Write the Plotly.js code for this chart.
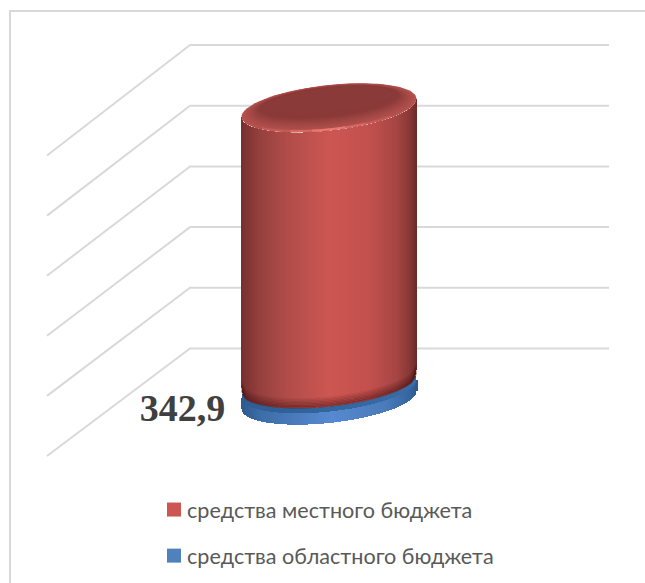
<!DOCTYPE html>
<html>
<head>
<meta charset="utf-8">
<script src="https://cdn.plot.ly/plotly-3.0.1.min.js"></script>
<style>html,body{margin:0;padding:0;background:#fff}#chart{width:645px;height:583px}</style>
</head>
<body>
<div id="chart"></div>
<script>
// ---- data ----
var seriesNames = ['средства местного бюджета', 'средства областного бюджета'];
var localBudget = 9085;      // estimated: its label is not shown in the picture
var regionalBudget = 342.9;
var regionalLabel = '342,9';
var gridValues = [0, 2000, 4000, 6000, 8000, 10000];

// ---- geometry and style ----
var W = 645, H = 583;
var unitsPerPx = 2000 / 60.7;
var floorPx = 402;                 // page row of value 0 at the centre of the floor
var yRange = [(floorPx - H) * unitsPerPx, floorPx * unitsPerPx];
var px = function (p) { return p * unitsPerPx; };

var gridFront = 47, gridBack = 190, gridRight = 609, depthPx = 53.5;
var cx = 329, a = 87.5, b = 23, skew = -9, lift = px(3), seat = px(5), cornerPx = 7;

function mix(c1, c2, f) {
  var out = [0, 1, 2].map(function (i) { return Math.round(c1[i] + (c2[i] - c1[i]) * f); });
  return 'rgb(' + out.join(',') + ')';
}
function hex(h) { return [1, 3, 5].map(function (i) { return parseInt(h.substr(i, 2), 16); }); }
function ramp(stops, x) {
  for (var i = 0; i < stops.length - 1; i++) {
    if (x <= stops[i + 1][0]) {
      return mix(hex(stops[i][1]), hex(stops[i + 1][1]), Math.max(0, (x - stops[i][0]) / (stops[i + 1][0] - stops[i][0])));
    }
  }
  return stops[stops.length - 1][1];
}
var redStops = [[241, '#76302e'], [260, '#95403e'], [287, '#b04c49'], [330, '#cd5652'], [370, '#c2504d'], [397, '#a54543'], [410, '#863735'], [417, '#682a28']];
var blueStops = [[241, '#2d5a8f'], [262, '#3d6ea9'], [330, '#5689cf'], [385, '#4a7bbb'], [410, '#35659f'], [418, '#2c578a']];
var capStops = [[241, '#2f5c93'], [330, '#33659f'], [418, '#3a6ca5']];

// offset of the ellipse rim below its centre, in value units (negative = lower on the page)
function rim(x, sign, scale) {
  var c = Math.max(-1, Math.min(1, (x - cx) / a));
  var s = Math.sqrt(1 - c * c);
  return -px(sign * b * s * (scale || 1) + skew * c);
}
// rounded foot: the column's lower edge curls up within cornerPx of its sides
function curl(x) {
  var d = Math.min(x - 241, 417 - x);
  if (d >= cornerPx) return 0;
  var k = 1 - d / cornerPx;
  return px(cornerPx * (1 - Math.sqrt(1 - k * k)));
}

var slices = [];
for (var x = 241; x <= 417; x++) slices.push(x + 0.5);

function column(base, heightFn, stops) {
  return {
    type: 'bar', xaxis: 'x2', yaxis: 'y2', showlegend: false, hoverinfo: 'skip',
    x: slices, width: slices.map(function () { return 1; }),
    base: slices.map(base),
    y: slices.map(heightFn),
    marker: { color: slices.map(function (q) { return ramp(stops, q); }), line: { width: 0 } }
  };
}

var traces = [];

// back wall grid: one bent line per value
gridValues.forEach(function (v) {
  traces.push({
    type: 'scatter', mode: 'lines', showlegend: false, hoverinfo: 'skip',
    x: [gridFront, gridBack, gridRight],
    y: [v * 0.99 - px(depthPx + 0.5), v + px(depthPx), v + px(depthPx)],
    line: { color: '#d9d9d9', width: 2 }
  });
});

// regional budget: thin disc
var blueBottom = lift - px(1);
var blueTop = lift + regionalBudget;
traces.push(column(function (q) { return blueBottom + rim(q, 1); }, function () { return blueTop - blueBottom; }, blueStops));
traces.push(column(function (q) { return blueTop + rim(q, 1); }, function (q) { return rim(q, -1) - rim(q, 1); }, capStops));

// local budget: tall cylinder standing on the disc
var redBase = blueTop + seat;
var redTop = redBase + localBudget;
traces.push(column(function (q) { return redBase + rim(q, 1) + curl(q); }, function (q) { return localBudget - curl(q); }, redStops));

// darker band along the foot of the cylinder
function arc(yc, sign, scale, from, to) {
  var xs = [], ys = [];
  for (var q = from; q <= to; q += 1.5) { xs.push(q); ys.push(yc + rim(q, sign, scale) + (sign > 0 && yc < redTop - px(20) ? curl(q) : 0)); }
  return { xs: xs, ys: ys };
}
for (var i = 0; i < 7; i++) {
  var foot = arc(redBase + px(i * 1.4 + 0.8), 1, 1, 242, 416);
  traces.push({
    type: 'scatter', mode: 'lines', xaxis: 'x2', yaxis: 'y2', showlegend: false, hoverinfo: 'skip',
    x: foot.xs, y: foot.ys,
    line: { color: 'rgba(70,20,20,' + (0.42 - i * 0.06) + ')', width: 2, shape: 'spline' }
  });
}

// top of the cylinder: nested ellipses, from bright rim to dark centre
var rings = 18, rimColor = hex('#b4514e'), coreColor = hex('#8a3a38');
for (var r = 0; r < rings; r++) {
  var f = r / (rings - 1);
  var scale = 1 - 0.48 * Math.pow(f, 0.8);
  var up = px(8 * Math.pow(f, 0.8));
  var xs = [], ys = [];
  for (var t = 0; t <= 360; t += 4) {
    var ca = Math.cos(t * Math.PI / 180), sa = Math.sin(t * Math.PI / 180);
    var sc = 1 - 0.28 * Math.pow(f, 0.8);
    xs.push(cx + a * sc * ca);
    ys.push(redTop + up - px(b * scale * sa + skew * sc * ca));
  }
  traces.push({
    type: 'scatter', mode: 'lines', fill: 'toself', xaxis: 'x2', yaxis: 'y2', showlegend: false, hoverinfo: 'skip',
    x: xs, y: ys, line: { width: 0, color: 'rgba(0,0,0,0)' },
    fillcolor: mix(rimColor, coreColor, Math.min(1, f * 1.5))
  });
}
// glint on the front lip
[[262, 392, 'rgba(240,120,110,0.28)', 2], [290, 365, 'rgba(245,125,115,0.4)', 2], [312, 345, 'rgba(250,130,120,0.6)', 2]].forEach(function (g) {
  var lip = arc(redTop + px(1.5), 1, 1, g[0], g[1]);
  traces.push({
    type: 'scatter', mode: 'lines', xaxis: 'x2', yaxis: 'y2', showlegend: false, hoverinfo: 'skip',
    x: lip.xs, y: lip.ys, line: { color: g[2], width: g[3], shape: 'spline' }
  });
});

// value label of the regional budget
traces.push({
  type: 'scatter', mode: 'text', xaxis: 'x2', yaxis: 'y2', showlegend: false, hoverinfo: 'skip',
  x: [182.5], y: [-px(9)], text: [regionalLabel], textposition: 'middle center', cliponaxis: false,
  textfont: { family: '"Liberation Serif", serif', size: 38, color: '#404040', weight: 700 }
});

// legend entries
[['#cd5652', 0], ['#4f81bd', 1]].forEach(function (e) {
  traces.push({
    type: 'scatter', mode: 'markers', xaxis: 'x2', yaxis: 'y2', name: seriesNames[e[1]], legendgroup: 'g' + e[1],
    x: [null], y: [null], marker: { symbol: 'square', size: 14, color: e[0] }
  });
});

var layout = {
  width: W, height: H,
  margin: { l: 0, r: 0, t: 0, b: 0, pad: 0 },
  paper_bgcolor: '#fff', plot_bgcolor: 'rgba(0,0,0,0)',
  barmode: 'overlay', bargap: 0,
  xaxis: { range: [0, W], visible: false, fixedrange: true },
  yaxis: { range: yRange, visible: false, fixedrange: true },
  xaxis2: { range: [0, W], visible: false, overlaying: 'x', fixedrange: true },
  yaxis2: { range: yRange, visible: false, overlaying: 'y', fixedrange: true },
  shapes: [{
    type: 'path', xref: 'paper', yref: 'paper', layer: 'below',
    path: 'M ' + (10 / W) + ' 0 L ' + (10 / W) + ' ' + (1 - 11 / H) + ' L 1 ' + (1 - 11 / H),
    line: { color: '#d9d9d9', width: 2 }
  }],
  showlegend: true,
  legend: {
    x: 147 / W, y: 1 - 489 / H, xanchor: 'left', yanchor: 'top',
    bgcolor: 'rgba(0,0,0,0)', tracegroupgap: 15, itemsizing: 'trace',
    font: { family: 'Lato, "Open Sans", sans-serif', size: 21.6, color: '#595959' }
  },
  hovermode: false,
  font: { family: 'Lato, sans-serif' }
};

Plotly.newPlot('chart', traces, layout, { displayModeBar: false, staticPlot: true }).then(function () {
  document.querySelectorAll('#chart .legend .legendsymbols').forEach(function (n) {
    n.setAttribute('transform', 'translate(7,0)');
  });
});
</script>
</body>
</html>
